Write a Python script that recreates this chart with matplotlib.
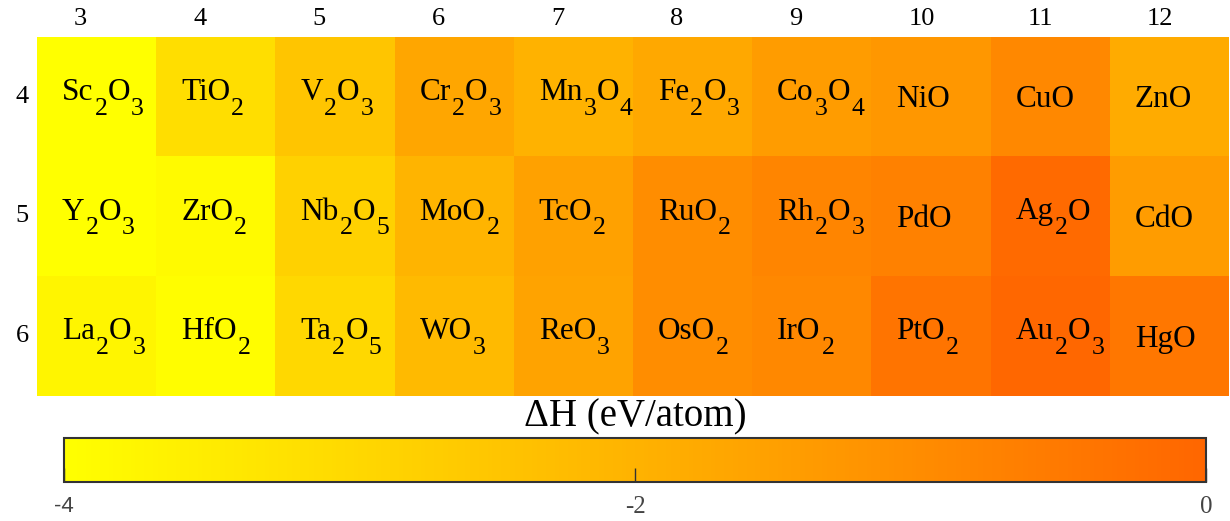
import re
import numpy as np
import matplotlib
matplotlib.use("Agg")
import matplotlib.pyplot as plt
from matplotlib.colors import LinearSegmentedColormap
from matplotlib.transforms import IdentityTransform

groups = [3, 4, 5, 6, 7, 8, 9, 10, 11, 12]
periods = [4, 5, 6]

formulas_p4 = ["Sc_2O_3", "TiO_2", "V_2O_3", "Cr_2O_3", "Mn_3O_4",
               "Fe_2O_3", "Co_3O_4", "NiO", "CuO", "ZnO"]
formulas_p5 = ["Y_2O_3", "ZrO_2", "Nb_2O_5", "MoO_2", "TcO_2",
               "RuO_2", "Rh_2O_3", "PdO", "Ag_2O", "CdO"]
formulas_p6 = ["La_2O_3", "HfO_2", "Ta_2O_5", "WO_3", "ReO_3",
               "OsO_2", "IrO_2", "PtO_2", "Au_2O_3", "HgO"]

dH_p4 = [-4.00, -3.15, -2.50, -1.68, -2.00, -1.75, -1.42, -1.30, -0.90, -1.80]
dH_p5 = [-4.00, -3.87, -2.80, -2.06, -1.55, -1.03, -0.83, -0.72, -0.13, -1.42]
dH_p6 = [-3.74, -3.95, -2.97, -2.19, -1.60, -1.03, -0.90, -0.39, -0.05, -0.46]

cbar_ticks = [-4, -2, 0]
cbar_ticklabels = ["-4", "-2", "0"]
cbar_label = "ΔH (eV/atom)"

plt.rcParams['font.family'] = ['Liberation Serif', 'DejaVu Serif']

cmap = LinearSegmentedColormap.from_list("yo", [(1.0, 1.0, 0.0), (1.0, 0.40, 0.0)])

data = np.array([dH_p4, dH_p5, dH_p6])
formulas = [formulas_p4, formulas_p5, formulas_p6]

W, H = 1230, 521
fig = plt.figure(figsize=(W / 100, H / 100), dpi=100)
ax = fig.add_axes([37/W, 1-396/H, (1229-37)/W, (396-37)/H])
im = ax.imshow(data, cmap=cmap, vmin=-4, vmax=0, aspect='auto',
               extent=[-0.5, len(groups)-0.5, len(periods)-0.5, -0.5],
               interpolation='nearest')
ax.set_xlim(-0.5, len(groups)-0.5)
ax.set_ylim(len(periods)-0.5, -0.5)
ax.axis('off')

renderer = fig.canvas.get_renderer()
MAIN_FS = 22.5
SUB_FS = 18.5
CAP_PX = 21
SUB_DROP = 15
SUB_SHIFT = 15
GAP_MAIN = 1.0
GAP_SUB = 0.3


def draw_formula(s, x_left, y_center):
    tokens = re.findall(r"_(\d+)|([^_\d]+)", s)
    has_sub = any(t[0] for t in tokens)
    if has_sub:
        base = y_center - (CAP_PX - SUB_DROP) / 2
    else:
        base = y_center - CAP_PX / 2
    x = x_left
    for sub, main in tokens:
        if main:
            t = fig.text(x, base, main, transform=IdentityTransform(),
                         fontsize=MAIN_FS, ha='left', va='baseline', color='black')
            x += t.get_window_extent(renderer).width + GAP_MAIN
        else:
            t = fig.text(x, base - SUB_SHIFT, sub, transform=IdentityTransform(),
                         fontsize=SUB_FS, ha='left', va='baseline', color='black')
            x += t.get_window_extent(renderer).width + GAP_SUB


for r in range(len(periods)):
    for c in range(len(groups)):
        xl, yc = ax.transData.transform((c - 0.5, r))
        draw_formula(formulas[r][c], xl + 25, yc)

for c, g in enumerate(groups):
    ax.text(c - 0.19, -0.5 - 0.06, str(g), ha='left', va='bottom',
            fontsize=19, color='black')
for r, p in enumerate(periods):
    ax.text(-0.5 - 0.07, r, str(p), ha='right', va='center',
            fontsize=19, color='black')

cax = fig.add_axes([64/W, 1-482/H, (1206-64)/W, 44/H])
cb = fig.colorbar(im, cax=cax, orientation='horizontal')
cb.set_ticks(cbar_ticks)
cb.outline.set_edgecolor('#333333')
cb.outline.set_linewidth(1.5)
cax.tick_params(axis='x', direction='in', length=10, width=1, color='#333333',
                labelbottom=False)

for v, lab in zip(cbar_ticks, cbar_ticklabels):
    xd = cax.transData.transform((v, 0))[0]
    if lab == "-4":
        fam, fs = 'Liberation Sans', 16
    else:
        fam, fs = 'Liberation Serif', 18
    fig.text(xd, H - 507, lab, transform=IdentityTransform(), ha='center',
             va='center', fontsize=fs, color='#444444', family=fam)

fig.text(635, H - 426, cbar_label, transform=IdentityTransform(),
         ha='center', va='baseline', fontsize=28, color='black')

fig.savefig("out.png", dpi=100)
